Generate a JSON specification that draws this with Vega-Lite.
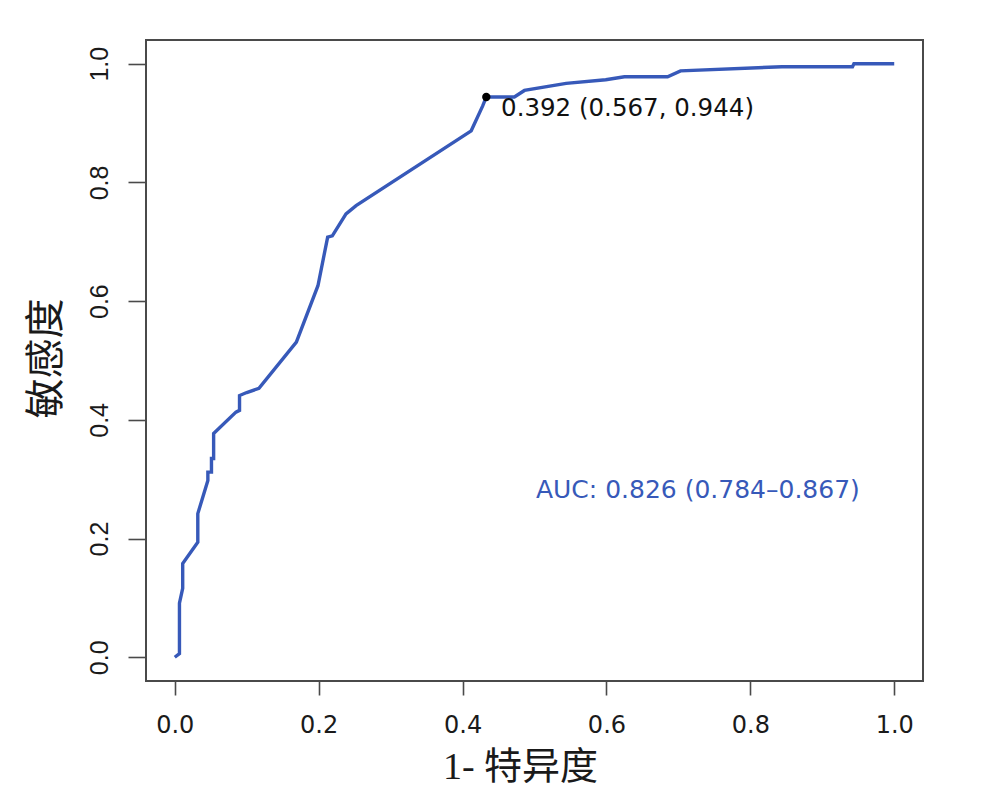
{
  "$schema": "https://vega.github.io/schema/vega-lite/v6.json",
  "width": 777,
  "height": 641,
  "autosize": {"type": "none"},
  "padding": {"left": 146, "top": 40, "right": 83, "bottom": 109},
  "background": "white",
  "config": {
    "view": {"stroke": "#4a4a4a", "strokeWidth": 2},
    "axis": {"grid": false, "domain": false}
  },
  "datasets": {
    "roc": [
      {"i": 1, "fpr": 0.0, "sens": 0.0},
      {"i": 2, "fpr": 0.0065, "sens": 0.006},
      {"i": 3, "fpr": 0.0065, "sens": 0.091},
      {"i": 4, "fpr": 0.011, "sens": 0.116},
      {"i": 5, "fpr": 0.011, "sens": 0.158},
      {"i": 6, "fpr": 0.032, "sens": 0.194},
      {"i": 7, "fpr": 0.032, "sens": 0.242},
      {"i": 8, "fpr": 0.046, "sens": 0.298},
      {"i": 9, "fpr": 0.046, "sens": 0.312},
      {"i": 10, "fpr": 0.051, "sens": 0.312},
      {"i": 11, "fpr": 0.051, "sens": 0.335},
      {"i": 12, "fpr": 0.054, "sens": 0.335},
      {"i": 13, "fpr": 0.054, "sens": 0.377},
      {"i": 14, "fpr": 0.085, "sens": 0.413},
      {"i": 15, "fpr": 0.09, "sens": 0.416},
      {"i": 16, "fpr": 0.09, "sens": 0.441},
      {"i": 17, "fpr": 0.1, "sens": 0.446},
      {"i": 18, "fpr": 0.117, "sens": 0.453},
      {"i": 19, "fpr": 0.169, "sens": 0.531},
      {"i": 20, "fpr": 0.199, "sens": 0.626},
      {"i": 21, "fpr": 0.2125, "sens": 0.708},
      {"i": 22, "fpr": 0.219, "sens": 0.71},
      {"i": 23, "fpr": 0.238, "sens": 0.747},
      {"i": 24, "fpr": 0.252, "sens": 0.761},
      {"i": 25, "fpr": 0.412, "sens": 0.887},
      {"i": 26, "fpr": 0.428, "sens": 0.929},
      {"i": 27, "fpr": 0.433, "sens": 0.944},
      {"i": 28, "fpr": 0.472, "sens": 0.944},
      {"i": 29, "fpr": 0.486, "sens": 0.955},
      {"i": 30, "fpr": 0.544, "sens": 0.967},
      {"i": 31, "fpr": 0.599, "sens": 0.973},
      {"i": 32, "fpr": 0.625, "sens": 0.978},
      {"i": 33, "fpr": 0.685, "sens": 0.978},
      {"i": 34, "fpr": 0.703, "sens": 0.988},
      {"i": 35, "fpr": 0.844, "sens": 0.995},
      {"i": 36, "fpr": 0.942, "sens": 0.995},
      {"i": 37, "fpr": 0.944, "sens": 1.0},
      {"i": 38, "fpr": 1.0, "sens": 1.0}
    ],
    "best": [
      {"fpr": 0.433, "sens": 0.944}
    ],
    "bestLabel": [
      {"fpr": 0.4535, "sens": 0.924, "label": "0.392 (0.567, 0.944)"}
    ],
    "auc": [
      {"fpr": 0.502, "sens": 0.281, "label": "AUC: 0.826 (0.784–0.867)"}
    ]
  },
  "layer": [
    {
      "data": {"name": "roc"},
      "mark": {"type": "line", "color": "#3759B9", "strokeWidth": 3.4, "strokeJoin": "miter", "clip": true},
      "encoding": {
        "x": {
          "field": "fpr", "type": "quantitative",
          "scale": {"domain": [-0.04, 1.04], "nice": false, "zero": false},
          "axis": {
            "values": [0, 0.2, 0.4, 0.6, 0.8, 1.0],
            "format": ".1f",
            "tickSize": 14, "tickWidth": 1.6, "tickColor": "#4a4a4a",
            "labelFont": "DejaVu Sans", "labelFontSize": 24, "labelColor": "#1a1a1a",
            "labelPadding": 18,
            "title": "1- 特异度",
            "titleFont": "Liberation Serif, Noto Sans CJK SC",
            "titleFontSize": 38, "titleFontWeight": "normal", "titleColor": "#1a1a1a",
            "titleX": 374, "titleY": 86, "titleAlign": "center", "titleBaseline": "middle", "titleAnchor": null
          }
        },
        "y": {
          "field": "sens", "type": "quantitative",
          "scale": {"domain": [-0.04, 1.04], "nice": false, "zero": false},
          "axis": {
            "values": [0, 0.2, 0.4, 0.6, 0.8, 1.0],
            "format": ".1f",
            "tickSize": 18, "tickWidth": 1.6, "tickColor": "#4a4a4a",
            "labelFont": "Liberation Sans", "labelFontSize": 25, "labelColor": "#1a1a1a",
            "labelAngle": -90, "labelAlign": "center", "labelBaseline": "alphabetic",
            "labelPadding": 21,
            "title": "敏感度",
            "titleFont": "Noto Sans CJK SC",
            "titleFontSize": 40, "titleFontWeight": "normal", "titleColor": "#1a1a1a",
            "titleX": -100, "titleY": 318, "titleAngle": -90, "titleAlign": "center", "titleBaseline": "middle", "titleAnchor": null
          }
        },
        "order": {"field": "i", "type": "quantitative"}
      }
    },
    {
      "data": {"name": "best"},
      "mark": {"type": "point", "filled": true, "color": "black", "size": 70, "opacity": 1},
      "encoding": {
        "x": {"field": "fpr", "type": "quantitative"},
        "y": {"field": "sens", "type": "quantitative"}
      }
    },
    {
      "data": {"name": "bestLabel"},
      "mark": {"type": "text", "align": "left", "baseline": "middle", "font": "DejaVu Sans", "fontSize": 24.5, "color": "#111111"},
      "encoding": {
        "x": {"field": "fpr", "type": "quantitative"},
        "y": {"field": "sens", "type": "quantitative"},
        "text": {"field": "label"}
      }
    },
    {
      "data": {"name": "auc"},
      "mark": {"type": "text", "align": "left", "baseline": "middle", "font": "DejaVu Sans", "fontSize": 25, "color": "#3759B9"},
      "encoding": {
        "x": {"field": "fpr", "type": "quantitative"},
        "y": {"field": "sens", "type": "quantitative"},
        "text": {"field": "label"}
      }
    }
  ]
}
